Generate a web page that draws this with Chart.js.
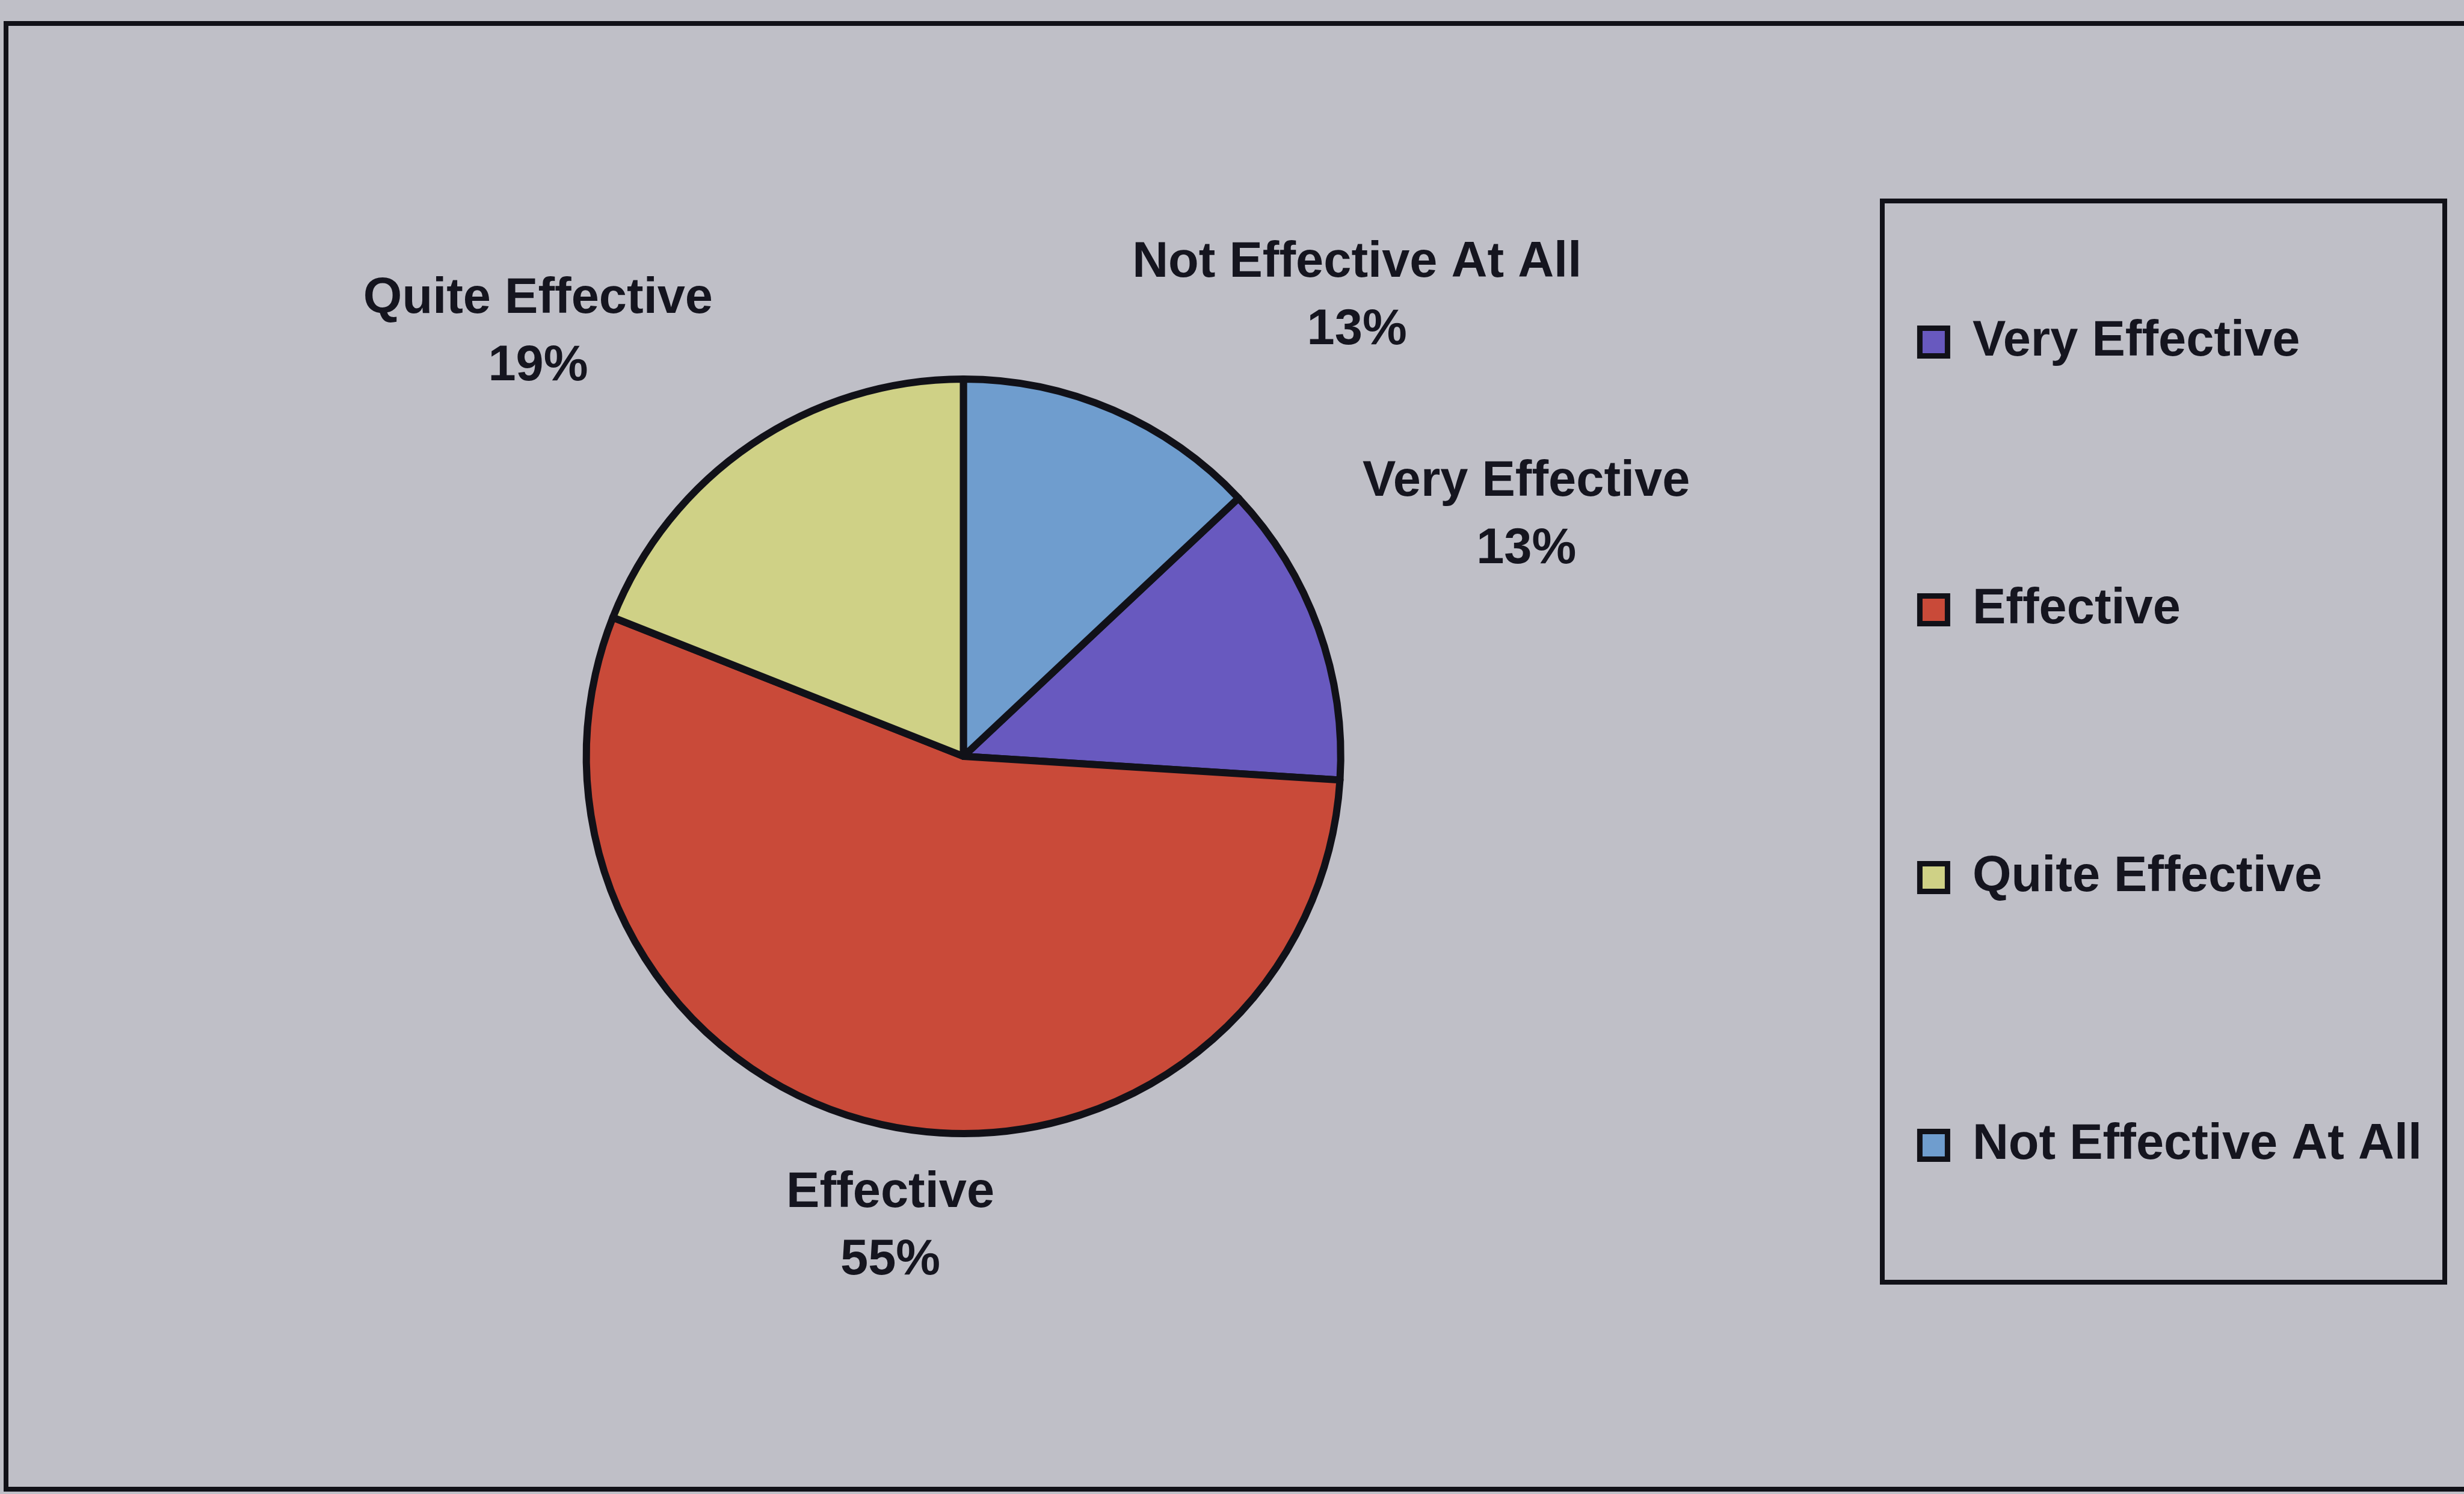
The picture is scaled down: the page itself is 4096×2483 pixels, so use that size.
<!DOCTYPE html>
<html>
<head>
<meta charset="utf-8">
<script src="https://cdn.jsdelivr.net/npm/chart.js@4.4.1/dist/chart.umd.min.js"></script>
<style>
  html, body { margin: 0; padding: 0; background: #bfbfc7; overflow: hidden; }
  #wrap { width: 4096px; height: 2483px; position: relative; }
  canvas { display: block; }
</style>
</head>
<body>
<div id="wrap"><canvas id="c" width="4096" height="2483"></canvas></div>
<script>
// ---- data ----
const categories = ['Very Effective', 'Effective', 'Quite Effective', 'Not Effective At All'];
const percentValues = [13, 55, 19, 13];
const sliceColors = ['#6859bf', '#c94a39', '#cfd186', '#6f9dce'];

// ---- styling ----
const FONT = '"Liberation Sans", Arial, Helvetica, sans-serif';
const TEXT_COLOR = '#15151f';

const frames = {
  id: 'frames',
  beforeDraw(chart, args, opts) {
    const ctx = chart.ctx;
    ctx.save();
    ctx.fillStyle = opts.background;
    ctx.fillRect(0, 0, chart.width, chart.height);
    ctx.strokeStyle = opts.lineColor;
    ctx.lineWidth = opts.outerWidth;
    const o = opts.outer;
    ctx.strokeRect(o[0], o[1], o[2] - o[0], o[3] - o[1]);
    ctx.lineWidth = opts.legendWidth;
    const l = opts.legendBox;
    ctx.strokeRect(l[0], l[1], l[2] - l[0], l[3] - l[1]);
    ctx.restore();
  }
};

const sliceLabels = {
  id: 'sliceLabels',
  afterDatasetsDraw(chart, args, opts) {
    const meta = chart.getDatasetMeta(0);
    const ds = chart.data.datasets[0].data;
    const total = ds.reduce((a, b) => a + b, 0);
    const ctx = chart.ctx;
    ctx.save();
    ctx.font = opts.font;
    ctx.fillStyle = opts.color;
    ctx.textAlign = 'center';
    ctx.textBaseline = 'middle';
    meta.data.forEach((arc, i) => {
      const R = arc.outerRadius;
      const off = opts.offsets[i];
      const x = arc.x + off[0] * R;
      const y = arc.y + off[1] * R;
      const pct = Math.round(ds[i] / total * 100) + '%';
      ctx.fillText(chart.data.labels[i], x, y - opts.lineGap / 2);
      ctx.fillText(pct, x, y + opts.lineGap / 2);
    });
    ctx.restore();
  }
};

new Chart(document.getElementById('c'), {
  type: 'pie',
  data: {
    labels: categories,
    datasets: [{
      data: percentValues,
      backgroundColor: sliceColors,
      borderColor: '#111118',
      borderWidth: 12,
      borderJoinStyle: 'round'
    }]
  },
  options: {
    responsive: false,
    devicePixelRatio: 1,
    animation: false,
    rotation: 46.8,
    radius: 627,
    layout: { padding: { left: 374, right: 60, top: 165, bottom: 134 } },
    events: [],
    plugins: {
      tooltip: { enabled: false },
      legend: {
        display: true,
        position: 'right',
        align: 'start',
        labels: {
          color: TEXT_COLOR,
          font: { family: FONT, size: 83, weight: 'bold' },
          boxWidth: 46,
          boxHeight: 46,
          padding: 362,
          generateLabels(chart) {
            const d = chart.data;
            return d.labels.map((lab, i) => ({
              text: lab,
              fillStyle: d.datasets[0].backgroundColor[i],
              strokeStyle: '#111118',
              lineWidth: 9,
              fontColor: TEXT_COLOR,
              hidden: false,
              index: i
            }));
          }
        }
      },
      frames: {
        background: '#bfbfc7',
        lineColor: '#111118',
        outerWidth: 8,
        outer: [10, 39, 4300, 2475],
        legendWidth: 8,
        legendBox: [3129, 334, 4064, 2131]
      },
      sliceLabels: {
        font: 'bold 83px ' + FONT,
        color: TEXT_COLOR,
        lineGap: 112,
        offsets: [[1.492, -0.638], [-0.194, 1.248], [-1.128, -1.122], [1.043, -1.219]]
      }
    }
  },
  plugins: [frames, sliceLabels]
});
</script>
</body>
</html>
